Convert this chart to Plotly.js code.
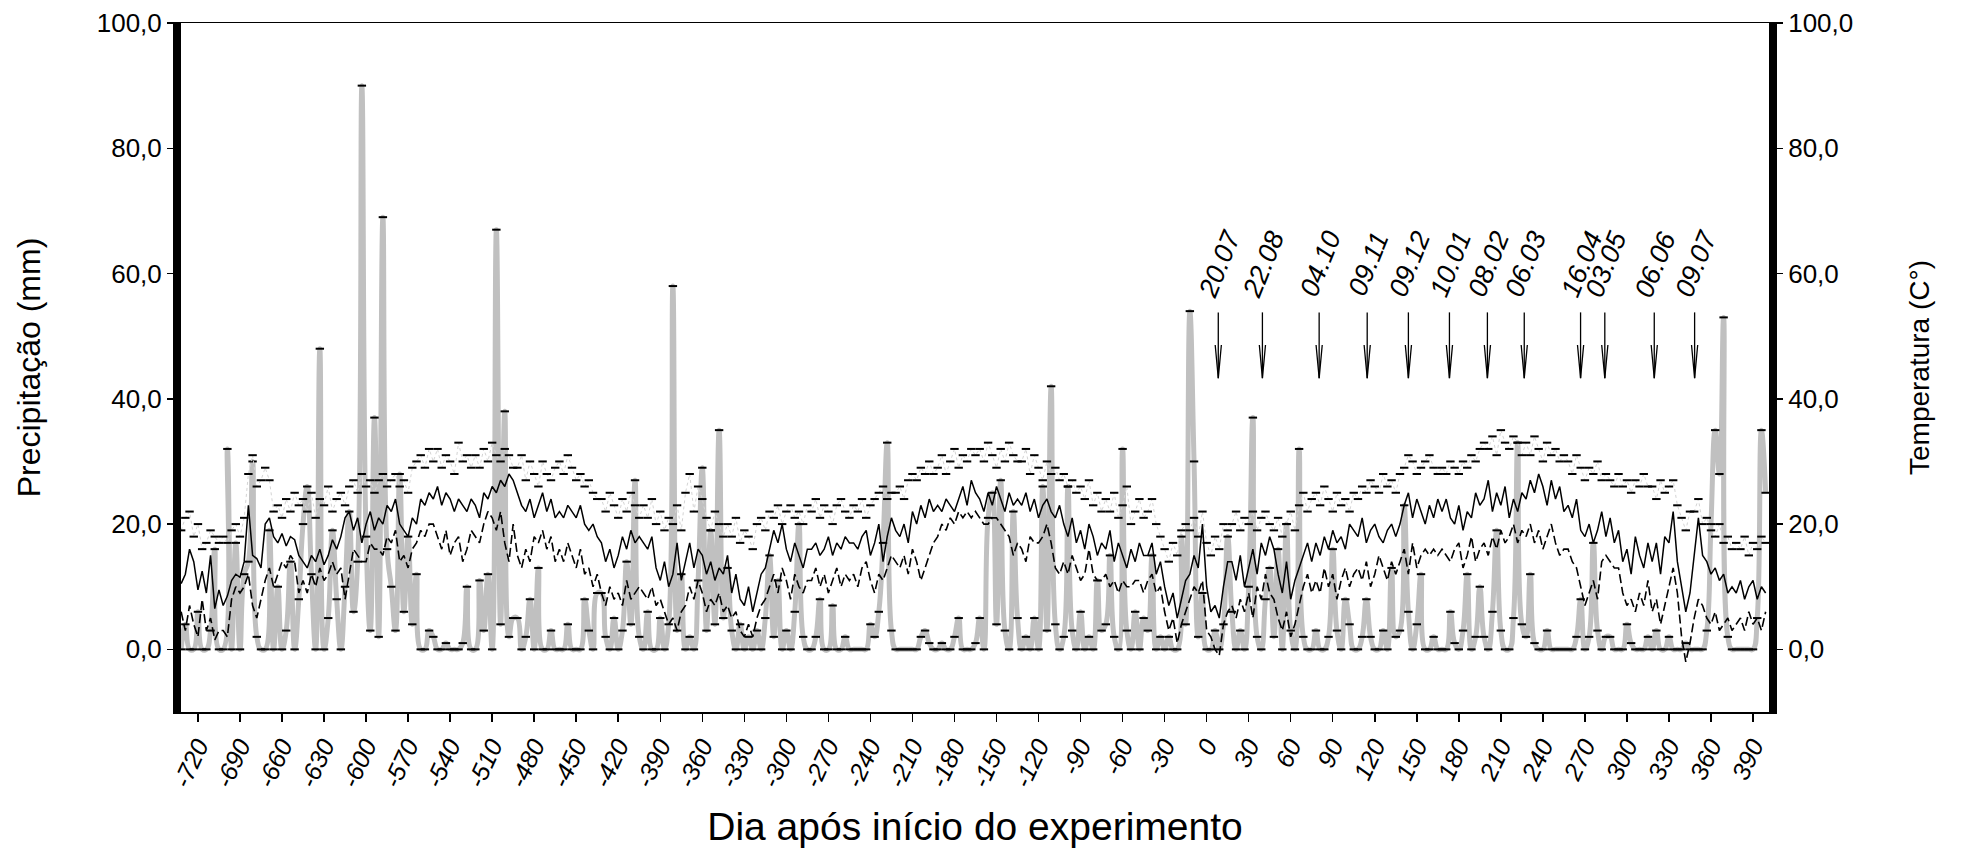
<!DOCTYPE html>
<html><head><meta charset="utf-8">
<script src="https://cdn.plot.ly/plotly-3.0.1.min.js"></script>
<style>html,body{margin:0;padding:0;background:#fff}#chart{width:1961px;height:849px}</style>
</head><body><div id="chart"></div>
<script>
const firstDay = -732;
const stepDays = 3;

const precipitation = [
0,4,0,0,6,0,0,3,16,0,
0,32,0,17,0,12,14,30,2,0,
0,19,0,10,0,3,14,0,8,20,
26,12,0,48,0,5,19,8,0,10,
22,6,14,90,18,3,37,2,69,16,
10,3,28,6,18,4,12,0,0,3,
2,0,0,1,0,0,0,1,10,0,
0,11,3,12,0,67,4,38,2,5,
5,0,2,8,0,13,0,0,3,0,
0,0,4,0,0,0,8,3,0,9,
9,2,0,5,0,3,14,4,27,2,
0,6,0,0,5,0,4,58,3,12,
0,2,0,11,29,3,19,4,35,5,
13,3,0,4,0,2,0,3,0,5,
15,2,11,0,3,0,6,20,2,0,
0,2,8,0,0,7,0,0,2,0,
0,0,0,0,4,2,6,17,33,3,
0,0,0,0,0,0,2,3,1,0,
0,1,0,0,2,5,0,0,0,1,
5,0,21,25,4,27,3,0,22,5,
0,2,0,5,0,26,3,42,4,0,
2,26,3,0,6,0,2,0,11,3,
4,15,2,0,32,3,0,6,0,5,
3,15,0,2,0,2,0,0,18,4,
54,30,2,9,0,0,3,0,4,18,
6,0,3,0,10,37,2,0,8,13,
2,16,0,20,3,0,32,2,0,0,
3,0,0,2,16,3,0,8,4,0,
0,2,8,2,0,0,3,0,13,2,
3,23,6,0,4,12,0,0,2,0,
0,0,6,1,0,3,12,0,2,10,
2,0,6,19,3,0,0,5,33,4,
2,12,1,0,0,3,0,0,0,0,
0,0,2,8,0,2,17,3,0,2,
2,0,0,0,4,1,0,0,0,2,
0,3,0,0,2,0,0,0,1,0,
0,0,0,3,20,35,28,53,2,0,
0,0,0,0,0,5,35,25
];

const tempMean = [
10.5,12,16,14,9.5,12.5,9,15,6.5,9.5,
7,8.5,11,12,11.5,14,23,15,14.5,13,
20,21,18,17,18.5,16.5,18,17.5,15,14,
13,15,14,16,13.5,15,17.5,16,18,21,
22,19,21,17,20,22,19,21,20,23,
22,24,20,19,18,21,20,24,23,25,
24,26,23,25,24,22,24,23,22,24,
23,21,25,24,26,25,27,26,28,27,
25,23,22,24,21,23,25,22,24,21,
22,21,23,22,21,23,20,19,20,18,
17,14,16,13,15,18,16,19,17,18,
17,16,18,13,11,14,10,12,17,11,
14,17,13,16,15,12,14,11,13,12,
15,9,12,8,7,10,6,9,12,13,
16,19,17,20,16,14,17,15,13,16,
16,17,15,16,18,15,17,16,18,17,
17,16,18,19,15,17,20,14,18,21,
19,18,20,17,22,20,23,21,24,22,
23,22,24,23,22,24,26,23,27,25,
24,22,25,23,26,24,22,25,23,24,
23,25,22,24,21,23,24,22,21,23,
20,18,21,17,19,16,20,18,15,17,
16,19,14,17,15,13,16,14,17,15,
15,17,12,14,10,7,9,5,8,11,
12,15,13,20,10,6,7,5,10,14,
14,11,15,10,13,16,12,17,15,18,
16,12,9,14,8,11,13,15,17,14,
17,15,18,16,19,17,18,16,20,19,
18,21,17,19,20,18,17,19,20,18,
20,23,25,21,24,22,20,23,21,24,
22,24,21,20,23,19,22,21,25,23,
24,27,22,25,23,26,21,24,22,25,
24,27,25,28,26,23,27,24,26,22,
23,21,24,19,18,20,17,19,22,18,
21,17,19,14,16,12,18,15,13,17,
14,17,12,18,17,22,14,10,6,9,
15,21,15,14,12,13,11,12,9,10,
9,11,8,10,11,8,10,9
];

const tempMin = [
6,3,7,4,2,8,3,5,1.5,3,
3,2,8,10,9,10,12,7,5,8,
11,13,10,12,14,13,15,14,9,11,
9,12,10,13,11,12,14,12,13,8,
12,16,15,14,14,17,16,16,15,18,
17,19,14,15,13,16,17,19,18,20,
20,18,16,19,15,17,18,14,16,19,
18,17,20,22,21,19,22,17,14,20,
15,13,16,14,18,17,19,16,18,14,
16,14,17,15,13,16,12,13,10,12,
9,7,10,8,9,7,11,8,9,10,
9,8,10,7,8,6,4,5,3,6,
7,10,8,11,9,6,8,7,9,6,
7,5,6,3,2,4,2,5,7,8,
10,12,9,13,11,8,12,10,9,11,
11,13,10,12,9,11,13,10,12,11,
12,10,13,14,11,9,12,11,13,15,
14,13,15,12,16,14,11,13,15,17,
18,20,19,21,20,22,21,22,21,22,
21,20,20,21,21,20,19,18,15,17,
16,14,18,17,17,18,20,17,13,12,
14,12,15,13,11,12,16,12,11,11,
12,10,11,9,11,10,10,11,11,9,
11,12,9,10,6,3,5,1,4,6,
8,10,9,11,3,2,0,-1,4,6,
7,5,8,6,9,5,10,8,12,9,
8,5,3,6,2,4,7,10,12,9,
11,9,13,10,12,8,11,13,10,12,
13,11,14,10,12,15,13,11,14,12,
14,16,12,17,13,15,16,15,16,15,
16,15,14,16,17,13,15,18,14,16,
17,15,18,16,19,17,18,20,17,19,
18,20,17,19,16,18,20,17,15,16,
16,14,13,10,7,9,11,8,14,15,
14,13,13,9,7,8,6,9,7,11,
6,8,4,7,10,13,9,2,-2,1,
5,8,7,5,4,6,3,4,5,3,
4,5,3,6,4,5,3,6
];

const tempMax = [
19,21,22,18,20,16,17,19,18,17,
18,17,19,20,18,21,28,31,26,27,
29,27,22,23,21,24,22,25,23,24,
22,25,21,24,23,26,22,24,25,23,
26,27,25,28,26,27,25,27,28,26,
27,28,26,27,25,29,30,31,29,32,
30,32,29,31,30,28,33,30,31,29,
31,29,32,30,33,31,30,32,31,29,
29,31,27,30,28,26,30,28,27,29,
30,28,31,29,27,28,26,27,25,24,
24,22,25,23,21,24,22,25,23,21,
23,21,24,20,22,19,21,20,23,19,
25,28,22,26,24,21,19,22,20,18,
20,18,21,17,19,18,16,20,21,19,
22,21,23,20,22,23,21,22,20,23,
22,24,21,23,22,20,23,24,22,21,
23,22,24,21,23,24,25,26,24,25,
25,26,24,27,28,27,29,28,30,28,
29,31,28,30,32,29,31,30,32,31,
32,30,33,31,29,32,30,33,31,30,
30,32,28,31,29,27,30,28,29,27,
28,26,27,25,26,24,27,23,25,22,
24,22,25,21,23,26,20,22,24,21,
22,24,20,18,16,14,17,15,19,20,
19,21,18,22,17,15,18,16,20,19,
20,22,19,21,20,22,19,21,22,20,
19,21,18,20,22,19,23,25,22,24,
25,23,26,24,22,25,23,24,22,25,
24,26,25,27,26,25,28,26,27,25,
28,29,31,30,28,29,30,31,29,28,
29,28,30,29,28,30,29,31,30,32,
33,32,34,31,35,33,32,34,33,31,
33,31,34,32,30,33,31,32,30,31,
30,28,31,29,27,29,28,30,27,28,
27,26,28,26,27,25,27,26,28,26,
26,24,27,25,26,27,23,21,19,22,
22,24,20,21,19,18,20,17,18,16,
17,16,18,15,17,16,18,17
];

const tickDays = [-720,-690,-660,-630,-600,-570,-540,-510,-480,-450,-420,-390,-360,-330,-300,-270,-240,-210,-180,-150,-120,-90,-60,-30,0,30,60,90,120,150,180,210,240,270,300,330,360,390];
const tickLabels = ['-720','-690','-660','-630','-600','-570','-540','-510','-480','-450','-420','-390','-360','-330','-300','-270','-240','-210','-180','-150','-120','-90','-60','-30','0','30','60','90','120','150','180','210','240','270','300','330','360','390'];
const yTicks = [0,20,40,60,80,100];
const yTickLabels = ['0,0','20,0','40,0','60,0','80,0','100,0'];

const eventDays = [8.3,39.8,80.3,114.6,144,173.3,200.4,226.7,266.9,284.2,319.5,348.3];
const eventLabels = ['20.07','22.08','04.10','09.11','09.12','10.01','08.02','06.03','16.04','03.05','06.06','09.07'];
const arrowTop = 53.8, arrowTip = 43.3, arrowHeadBase = 48.6, labelLevel = 61.5;

const days = precipitation.map((_, i) => firstDay + i * stepDays);
const FONT = '"Liberation Sans", Arial, sans-serif';

const traces = [
  {x: days, y: precipitation, yaxis: 'y', mode: 'lines+markers', name: 'Precipitação',
   line: {color: '#c0c0c0', width: 5, shape: 'spline', smoothing: 1.3},
   marker: {symbol: 'line-ew', size: 6, color: '#000', line: {color: '#000', width: 2}}},
  {x: days, y: tempMax, yaxis: 'y2', mode: 'lines+markers', name: 'Máxima',
   line: {color: '#d4d4d4', width: 1, dash: 'dot'},
   marker: {symbol: 'line-ew', size: 6, color: '#000', line: {color: '#000', width: 2}}},
  {x: days, y: tempMin, yaxis: 'y2', mode: 'lines', name: 'Mínima',
   line: {color: '#000', width: 1.6, dash: '9px,4px'}},
  {x: days, y: tempMean, yaxis: 'y2', mode: 'lines', name: 'Média',
   line: {color: '#000', width: 1.5}}
];

const annotations = [];
const shapes = [];
eventDays.forEach((d, i) => {
  annotations.push({x: d + 1, y: labelLevel, xref: 'x', yref: 'y', text: eventLabels[i],
    showarrow: false, textangle: -68, xanchor: 'center', yanchor: 'middle',
    font: {family: FONT, size: 27, color: '#000', style: 'italic'}});
  shapes.push({type: 'line', xref: 'x', yref: 'y', x0: d, x1: d, y0: arrowTop, y1: arrowTip,
    line: {color: '#000', width: 1.3}});
  shapes.push({type: 'path', xref: 'x', yref: 'y',
    path: `M ${d - 2.2},${arrowHeadBase} L ${d},${arrowTip} L ${d + 2.2},${arrowHeadBase}`,
    line: {color: '#000', width: 1.3}});
});

const yCommon = {
  range: [-10, 100], tickvals: yTicks, ticktext: yTickLabels, ticks: 'outside', ticklen: 6,
  tickwidth: 1.5, tickcolor: '#000', showline: true, linecolor: '#000', linewidth: 8,
  showgrid: false, zeroline: false, tickfont: {family: FONT, size: 26, color: '#000'}
};

const layout = {
  width: 1961, height: 849,
  paper_bgcolor: '#fff', plot_bgcolor: '#fff',
  showlegend: false,
  margin: {l: 181, r: 192, t: 23, b: 137, pad: 0},
  xaxis: {
    range: [-732.1, 401.4], tickvals: tickDays, ticktext: tickLabels, tickangle: -65,
    ticks: 'outside', ticklen: 8, tickwidth: 1.5, tickcolor: '#000',
    showline: true, linecolor: '#000', linewidth: 1.5, mirror: true,
    showgrid: false, zeroline: false,
    tickfont: {family: FONT, size: 25, color: '#000', style: 'italic'},
    title: {text: 'Dia após início do experimento', font: {family: FONT, size: 39, color: '#000'}, standoff: 22}
  },
  yaxis: Object.assign({}, yCommon, {
    title: {text: 'Precipitação (mm)', font: {family: FONT, size: 32, color: '#000'}, standoff: 50}
  }),
  yaxis2: Object.assign({}, yCommon, {
    overlaying: 'y', side: 'right',
    title: {text: 'Temperatura (C°)', font: {family: FONT, size: 28, color: '#000'}, standoff: 60}
  }),
  annotations: annotations,
  shapes: shapes
};

Plotly.newPlot('chart', traces, layout, {displayModeBar: false, staticPlot: true});
</script>
</body></html>
